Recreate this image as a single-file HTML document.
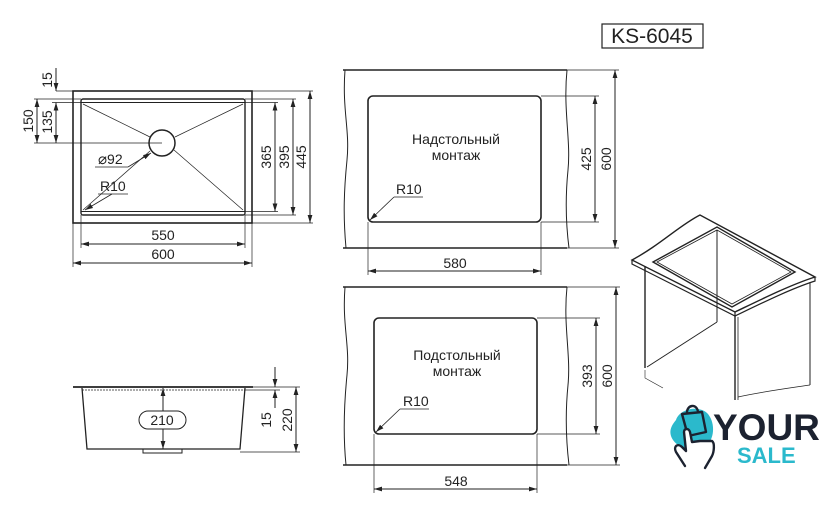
<!DOCTYPE html>
<html><head><meta charset="utf-8"><style>
html,body{margin:0;padding:0;background:#fff;}
svg{display:block;}
text{font-family:"Liberation Sans",sans-serif;fill:#222;}
</style></head><body>
<svg width="840" height="522" viewBox="0 0 840 522" xmlns="http://www.w3.org/2000/svg">
<defs>
<marker id="a" viewBox="0 0 10 6" refX="10" refY="3" markerWidth="8" markerHeight="5" orient="auto-start-reverse" markerUnits="userSpaceOnUse"><path d="M0,0L10,3L0,6z" fill="#222"/></marker>
</defs>
<g stroke="#222" fill="none" stroke-width="1">
<rect x="73" y="91" width="179" height="132" stroke-width="1.6"/>
<rect x="81" y="99" width="164" height="116" rx="2" stroke-width="1.4"/>
<line x1="81" y1="102.5" x2="245" y2="102.5"/>
<line x1="81" y1="211.5" x2="245" y2="211.5"/>
<circle cx="162" cy="143" r="13" stroke-width="1.5"/>
<line x1="83" y1="104" x2="150" y2="137" stroke-width="0.7"/>
<line x1="243" y1="104" x2="175" y2="137" stroke-width="0.7"/>
<line x1="83" y1="210" x2="150" y2="151" stroke-width="0.7"/>
<line x1="243" y1="210" x2="174" y2="150" stroke-width="0.7"/>
<line x1="56" y1="91" x2="73" y2="91" stroke-width="0.7"/>
<line x1="34" y1="99" x2="81" y2="99" stroke-width="0.7"/>
<line x1="52" y1="102.5" x2="278" y2="102.5" stroke-width="0.7"/>
<line x1="34" y1="143" x2="162" y2="143" stroke-width="0.7"/>
<line x1="245" y1="99" x2="296" y2="99" stroke-width="0.7"/>
<line x1="245" y1="211.5" x2="278" y2="211.5" stroke-width="0.7"/>
<line x1="245" y1="215" x2="296" y2="215" stroke-width="0.7"/>
<line x1="252" y1="91" x2="313" y2="91" stroke-width="0.7"/>
<line x1="252" y1="223" x2="313" y2="223" stroke-width="0.7"/>
<line x1="81" y1="215" x2="81" y2="248" stroke-width="0.7"/>
<line x1="245" y1="215" x2="245" y2="248" stroke-width="0.7"/>
<line x1="73" y1="223" x2="73" y2="267" stroke-width="0.7"/>
<line x1="252" y1="223" x2="252" y2="267" stroke-width="0.7"/>
<line x1="56" y1="68" x2="56" y2="91" marker-end="url(#a)"/>
<line x1="56" y1="102.5" x2="56" y2="143" marker-start="url(#a)" marker-end="url(#a)"/>
<line x1="37" y1="99" x2="37" y2="143" marker-start="url(#a)" marker-end="url(#a)"/>
<line x1="275" y1="102.5" x2="275" y2="211.5" marker-start="url(#a)" marker-end="url(#a)"/>
<line x1="293" y1="99" x2="293" y2="215" marker-start="url(#a)" marker-end="url(#a)"/>
<line x1="310" y1="91" x2="310" y2="223" marker-start="url(#a)" marker-end="url(#a)"/>
<line x1="81" y1="244" x2="245" y2="244" marker-start="url(#a)" marker-end="url(#a)"/>
<line x1="73" y1="263" x2="252" y2="263" marker-start="url(#a)" marker-end="url(#a)"/>
<line x1="95" y1="167" x2="128" y2="167" stroke-width="0.8"/>
<line x1="128" y1="167" x2="151" y2="153" marker-end="url(#a)" stroke-width="0.8"/>
<line x1="98" y1="194" x2="128" y2="194" stroke-width="0.8"/>
<line x1="112" y1="194" x2="85" y2="210" marker-end="url(#a)" stroke-width="0.8"/>

<path d="M343,70 L567,70 M343,248 L567,248" stroke-width="1.5"/>
<path d="M345,70 C342,110 350,130 347,160 C344,190 343,215 346,248"/>
<path d="M567,70 C563,110 571,140 568,170 C565,200 566,225 569,248"/>
<rect x="368" y="96" width="173" height="126" rx="5" stroke-width="1.6"/>
<line x1="541" y1="96" x2="599" y2="96" stroke-width="0.7"/>
<line x1="541" y1="222" x2="599" y2="222" stroke-width="0.7"/>
<line x1="567" y1="70" x2="619" y2="70" stroke-width="0.7"/>
<line x1="567" y1="248" x2="619" y2="248" stroke-width="0.7"/>
<line x1="595" y1="96" x2="595" y2="222" marker-start="url(#a)" marker-end="url(#a)"/>
<line x1="615" y1="70" x2="615" y2="248" marker-start="url(#a)" marker-end="url(#a)"/>
<line x1="368" y1="222" x2="368" y2="275" stroke-width="0.7"/>
<line x1="541" y1="222" x2="541" y2="275" stroke-width="0.7"/>
<line x1="368" y1="271" x2="541" y2="271" marker-start="url(#a)" marker-end="url(#a)"/>
<line x1="394" y1="197" x2="423" y2="197" stroke-width="0.8"/>
<line x1="394" y1="197" x2="370" y2="220" marker-end="url(#a)" stroke-width="0.8"/>

<path d="M343,287 L567,287 M343,465 L567,465" stroke-width="1.5"/>
<path d="M345,287 C342,325 350,345 347,375 C344,405 343,435 346,465"/>
<path d="M567,287 C563,325 571,355 568,385 C565,415 566,440 569,465"/>
<rect x="374" y="318" width="163" height="116" rx="5" stroke-width="1.6"/>
<line x1="537" y1="318" x2="600" y2="318" stroke-width="0.7"/>
<line x1="537" y1="434" x2="600" y2="434" stroke-width="0.7"/>
<line x1="567" y1="287" x2="620" y2="287" stroke-width="0.7"/>
<line x1="567" y1="465" x2="620" y2="465" stroke-width="0.7"/>
<line x1="596" y1="318" x2="596" y2="434" marker-start="url(#a)" marker-end="url(#a)"/>
<line x1="616" y1="287" x2="616" y2="465" marker-start="url(#a)" marker-end="url(#a)"/>
<line x1="374" y1="434" x2="374" y2="493" stroke-width="0.7"/>
<line x1="537" y1="434" x2="537" y2="493" stroke-width="0.7"/>
<line x1="374" y1="489" x2="537" y2="489" marker-start="url(#a)" marker-end="url(#a)"/>
<line x1="400" y1="409" x2="429" y2="409" stroke-width="0.8"/>
<line x1="400" y1="409" x2="376" y2="432" marker-end="url(#a)" stroke-width="0.8"/>

<line x1="73" y1="387" x2="253" y2="387" stroke-width="1.8"/>
<line x1="82" y1="390" x2="245" y2="390" stroke-dasharray="2,1" stroke-width="0.8"/>
<path d="M82,388 L87,449 L240,449 L245,388" stroke-width="1.3"/>
<rect x="143" y="449" width="39" height="4" stroke-width="1"/>
<line x1="163" y1="388" x2="163" y2="449" marker-start="url(#a)" marker-end="url(#a)"/>
<rect x="139" y="411" width="47" height="18" rx="9" fill="#fff" stroke-width="1"/>
<line x1="253" y1="387" x2="300" y2="387" stroke-width="0.7"/>
<line x1="245" y1="390" x2="280" y2="390" stroke-width="0.7"/>
<line x1="240" y1="452" x2="300" y2="452" stroke-width="0.7"/>
<line x1="275" y1="367" x2="275" y2="387" marker-end="url(#a)"/>
<line x1="275" y1="408" x2="275" y2="390" marker-end="url(#a)"/>
<line x1="296" y1="387" x2="296" y2="452" marker-start="url(#a)" marker-end="url(#a)"/>

<rect x="602" y="24" width="101" height="24" stroke-width="1.2"/>

<path d="M632,260 C660,245 680,225 700,215 L815,277 C790,285 760,300 735,312 Z" stroke-width="1.4" fill="#fff"/>
<path d="M632,260 L632,264 L735,316 L735,312 M735,316 C760,304 790,289 815,281 L815,277" stroke-width="1.2"/>
<path d="M653,262 L717,227 L795,272 L732,307 Z" stroke-width="1.4"/>
<path d="M657,262 L717,230 L791,272 L732,304 Z" stroke-width="0.8"/>
<line x1="717" y1="230" x2="717" y2="322"/>
<line x1="645" y1="266" x2="645" y2="368" stroke-width="1.4"/>
<line x1="647" y1="367" x2="717" y2="322"/>
<line x1="735" y1="316" x2="735" y2="400" stroke-width="1.4"/>
<line x1="738" y1="317" x2="738" y2="400" stroke-width="0.8"/>
<line x1="810" y1="282" x2="810" y2="385" stroke-width="1"/>
<path d="M738,397 C760,392 790,388 810,385" stroke-width="0.8"/>
<path d="M645,370 L645,378 L663,388" stroke-width="0.6"/>
</g>

<g font-size="14">
<text transform="translate(52,80) rotate(-90)" text-anchor="middle">15</text>
<text transform="translate(52,122) rotate(-90)" text-anchor="middle">135</text>
<text transform="translate(33,121) rotate(-90)" text-anchor="middle">150</text>
<text transform="translate(271,157) rotate(-90)" text-anchor="middle">365</text>
<text transform="translate(289,157) rotate(-90)" text-anchor="middle">395</text>
<text transform="translate(306,157) rotate(-90)" text-anchor="middle">445</text>
<text x="163" y="240" text-anchor="middle">550</text>
<text x="163" y="259" text-anchor="middle">600</text>
<text x="98" y="164"><tspan font-size="15">⌀</tspan>92</text>
<text x="100" y="191">R10</text>
<text x="456" y="144" text-anchor="middle">Надстольный</text>
<text x="456" y="160" text-anchor="middle">монтаж</text>
<text x="396" y="194">R10</text>
<text transform="translate(591,159) rotate(-90)" text-anchor="middle">425</text>
<text transform="translate(611,159) rotate(-90)" text-anchor="middle">600</text>
<text x="455" y="268" text-anchor="middle">580</text>
<text x="457" y="360" text-anchor="middle">Подстольный</text>
<text x="457" y="376" text-anchor="middle">монтаж</text>
<text x="403" y="406">R10</text>
<text transform="translate(592,376) rotate(-90)" text-anchor="middle">393</text>
<text transform="translate(612,376) rotate(-90)" text-anchor="middle">600</text>
<text x="456" y="486" text-anchor="middle">548</text>
<text x="162" y="425" text-anchor="middle">210</text>
<text transform="translate(271,420) rotate(-90)" text-anchor="middle">15</text>
<text transform="translate(292,420) rotate(-90)" text-anchor="middle">220</text>
</g>
<text x="652" y="43" font-size="21" text-anchor="middle">KS-6045</text>

<path d="M676,420 C680,408 700,405 708,414 C716,424 714,440 706,446 C696,452 680,450 673,440 C668,432 671,426 676,420 Z" fill="#2bb9cc"/>
<path d="M682,414 L702,412 L706,432 L688,436 Z M687,414 C686,404 698,403 698,413" fill="none" stroke="#1c2230" stroke-width="2.4" stroke-linejoin="round"/>
<path d="M685,466 L676,452 C673,446 678,443 682,447 L686,451 L684,432 C684,428 689,428 690,432 L692,442 L700,441 L712,441 C715,443 714,452 712,456 L705,468" fill="#fff" stroke="#1c2230" stroke-width="2.4" stroke-linejoin="round" stroke-linecap="round"/>
<text x="713" y="440" font-size="37" font-weight="bold" style="fill:#1c2230">YOUR</text>
<text x="737" y="463" font-size="22" font-weight="bold" style="fill:#2bb9cc">SALE</text>
</svg>
</body></html>
